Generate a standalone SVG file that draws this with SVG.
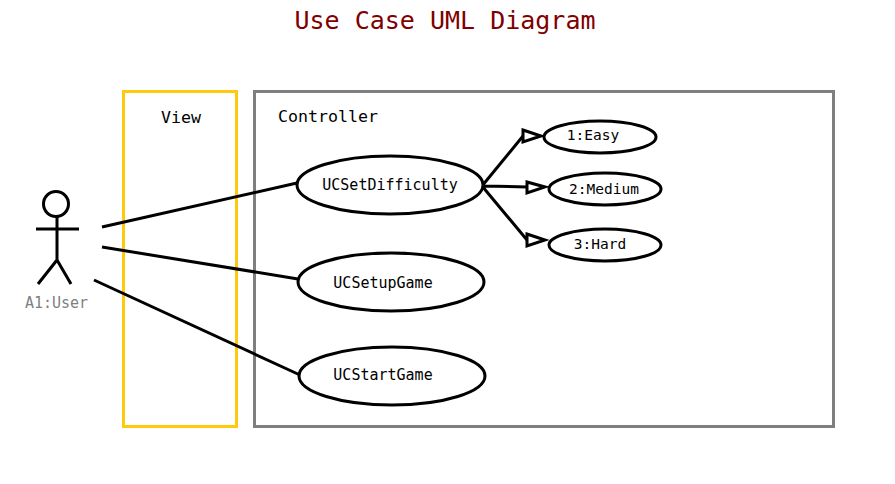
<svg xmlns="http://www.w3.org/2000/svg" width="895" height="484" viewBox="0 0 895 484">
<style>
text{font-family:"DejaVu Sans Mono","Liberation Mono",monospace;fill:#000}
.l{font-size:15px;text-anchor:middle}
.s{font-size:14.500px;text-anchor:middle}
.u{fill:#fff;stroke:#000;stroke-width:3}
.c{fill:none;stroke:#000;stroke-width:3}
.h{fill:#fff;stroke:#000;stroke-width:3}
</style>
<rect width="895" height="484" fill="#fff"/>
<text x="445" y="29" text-anchor="middle" style="font-size:25px;fill:#800000">Use Case UML Diagram</text>
<g id="view"><rect x="123.500" y="91.500" width="113" height="335" fill="none" stroke="#ffc90e" stroke-width="3"/><text x="181" y="123" style="font-size:16.600px;text-anchor:middle">View</text></g>
<g id="controller"><rect x="254.500" y="91.500" width="579" height="335" fill="none" stroke="#7f7f7f" stroke-width="3"/><text x="328" y="122" style="font-size:16.600px;text-anchor:middle">Controller</text></g>
<g id="connectors">
<path class="c" d="M102 227L297 183M102 247L298 279M94 280L300 375"/>
<path class="c" d="M482 186L523 136M482 186L527 187M482 186L527 240"/>
<path class="h" d="M523 130L541 136L523 142Z"/>
<path class="h" d="M527 182L545 187L527 193Z"/>
<path class="h" d="M527 234L545 240L527 246Z"/>
</g>
<g id="a1"><circle cx="56" cy="204" r="12.500" fill="none" stroke="#000" stroke-width="3"/><path class="c" d="M57 217V260M36 229H79M57 260L38 284M57 260L71 284"/><text x="56.500" y="308" style="font-size:15px;fill:#7f7f7f;text-anchor:middle">A1:User</text></g>
<g id="uc1"><ellipse class="u" cx="390" cy="185" rx="93" ry="29"/><text class="l" x="390" y="190">UCSetDifficulty</text></g>
<g id="uc2"><ellipse class="u" cx="391" cy="282" rx="93" ry="29"/><text class="l" x="383" y="288">UCSetupGame</text></g>
<g id="uc3"><ellipse class="u" cx="392" cy="376" rx="93" ry="29"/><text class="l" x="383" y="380">UCStartGame</text></g>
<g id="e1"><ellipse class="u" cx="600" cy="137" rx="56" ry="16"/><text class="s" x="593" y="140">1:Easy</text></g>
<g id="e2"><ellipse class="u" cx="605" cy="189" rx="56" ry="16"/><text class="s" x="604" y="194">2:Medium</text></g>
<g id="e3"><ellipse class="u" cx="605" cy="245" rx="56" ry="16"/><text class="s" x="600" y="249">3:Hard</text></g>
</svg>
